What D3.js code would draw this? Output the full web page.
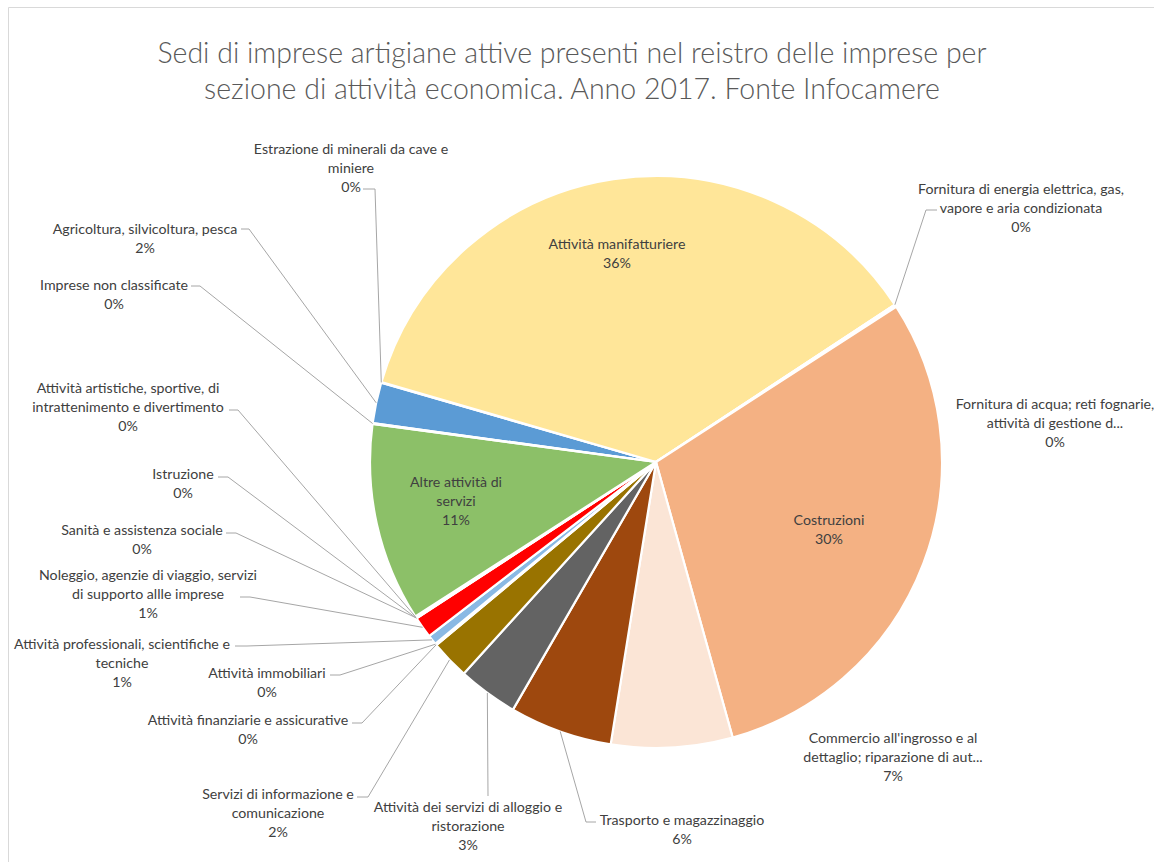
<!DOCTYPE html>
<html><head><meta charset="utf-8">
<script src="https://cdn.jsdelivr.net/npm/d3@7"></script>
<style>
body{margin:0;background:#fff;}
svg{display:block;font-family:Lato,"Open Sans",sans-serif;}
</style>
</head><body>
<svg id="chart" width="1154" height="862"></svg>
<script>
// ---- data ----
const titleLines = [
  "Sedi di imprese artigiane attive presenti nel reistro delle imprese per",
  "sezione di attività economica. Anno 2017. Fonte Infocamere"
];
const categories = [
  "Agricoltura, silvicoltura, pesca",
  "Estrazione di minerali da cave e miniere",
  "Attività manifatturiere",
  "Fornitura di energia elettrica, gas, vapore e aria condizionata",
  "Fornitura di acqua; reti fognarie, attività di gestione d...",
  "Costruzioni",
  "Commercio all'ingrosso e al dettaglio; riparazione di aut...",
  "Trasporto e magazzinaggio",
  "Attività dei servizi di alloggio e ristorazione",
  "Servizi di informazione e comunicazione",
  "Attività finanziarie e assicurative",
  "Attività immobiliari",
  "Attività professionali, scientifiche e tecniche",
  "Noleggio, agenzie di viaggio, servizi di supporto allle imprese",
  "Istruzione",
  "Sanità e assistenza sociale",
  "Attività artistiche, sportive, di intrattenimento e divertimento",
  "Altre attività di servizi",
  "Imprese non classificate"
];
// share of enterprises (%)
const values = [2.3, 0.04, 36.2, 0.02, 0.12, 29.8, 6.85, 5.8, 3.4, 2.2, 0.04, 0.06, 0.55, 1.2, 0.02, 0.03, 0.08, 11.2, 0.04];

// ---- styles ----
const colors = ["#5B9BD5","#ED7D31","#FFE699","#A5A5A5","#FFC000","#F4B183","#FBE5D6","#9E480E","#636363","#997300",
                "#4472C4","#70AD47","#8AB9E4","#FF0000","#264478","#43682B","#255E91","#8CC068","#7F7F7F"];
// label placement: centre x, first line centre y, words on first line, leader stub [x1,y1,x2,y2]
const labelLayout = [
  {x:145,  y:228, split:0, stub:[241,229,249,229]},
  {x:351,  y:148, split:6, stub:[363,189,375,189]},
  {x:617,  y:243, split:0, stub:null},
  {x:1021, y:188, split:5, stub:[937,210,926,210]},
  {x:1055, y:403, split:5, stub:null},
  {x:829,  y:519, split:0, stub:null},
  {x:893,  y:737, split:4, stub:null},
  {x:682,  y:819, split:0, stub:[596,822,586,822]},
  {x:468,  y:806, split:6, stub:[488,796,488,796]},
  {x:278,  y:793, split:4, stub:[357,797,368,797]},
  {x:248,  y:719, split:0, stub:[352,723,362,723]},
  {x:267,  y:672, split:0, stub:[330,675,340,675]},
  {x:122,  y:643, split:4, stub:[235,646,247,646]},
  {x:148,  y:574, split:5, stub:[240,597,250,597]},
  {x:183,  y:473, split:0, stub:[218,477,228,477]},
  {x:142,  y:529, split:0, stub:[226,533,236,533]},
  {x:128,  y:387, split:4, stub:[229,410,238,410]},
  {x:456,  y:481, split:3, stub:null},
  {x:114,  y:284, split:0, stub:[191,286,200,286]}
];

const W = 1154, H = 862;
const cx = 656, cy = 462, R = 286;
const svg = d3.select("#chart");

// frame
svg.append("path").attr("d", `M8.5,${H} V7.5 H${W}`).attr("fill","none").attr("stroke","#D9D9D9").attr("stroke-width",1);

// title
svg.append("g").selectAll("text").data(titleLines).join("text")
  .attr("x", 572).attr("y", (d,i)=>52 + i*36)
  .attr("text-anchor","middle").attr("dominant-baseline","central")
  .attr("font-size", 28.5).attr("font-weight", 300).attr("fill","#595959").text(d=>d);

const total = d3.sum(values);
const a0 = 277.8 * Math.PI/180;
const pie = d3.pie().sort(null).value(d=>d).startAngle(a0).endAngle(a0 + 2*Math.PI);
const arcs = pie(values);
const arc = d3.arc().innerRadius(0).outerRadius(R);
const edge = d3.arc().innerRadius(R).outerRadius(R);

const g = svg.append("g").attr("transform", `translate(${cx},${cy})`);
g.selectAll("path").data(arcs).join("path")
  .attr("d", arc).attr("fill", (d,i)=>colors[i])
  .attr("stroke","#fff").attr("stroke-width",2.2).attr("stroke-linejoin","round");

// leader lines
const leaders = svg.append("g").attr("fill","none").attr("stroke","#A6A6A6").attr("stroke-width",1);
arcs.forEach((d,i)=>{
  const L = labelLayout[i];
  if (!L.stub) return;
  const p = edge.centroid(d);
  const pts = [[L.stub[0],L.stub[1]],[L.stub[2],L.stub[3]],[cx+p[0],cy+p[1]]];
  leaders.append("path").attr("d", d3.line()(pts));
});

// labels
const lab = svg.append("g").attr("font-size",14.2).attr("fill","#404040").attr("text-anchor","middle");
arcs.forEach((d,i)=>{
  const L = labelLayout[i];
  const words = categories[i].split(" ");
  const lines = L.split ? [words.slice(0,L.split).join(" "), words.slice(L.split).join(" ")] : [categories[i]];
  lines.push(Math.round(values[i]/total*100) + "%");
  const t = lab.append("text").attr("dominant-baseline","central");
  lines.forEach((s,k)=>t.append("tspan").attr("x",L.x).attr("y",L.y + k*19).text(s));
});
</script>
</body></html>
